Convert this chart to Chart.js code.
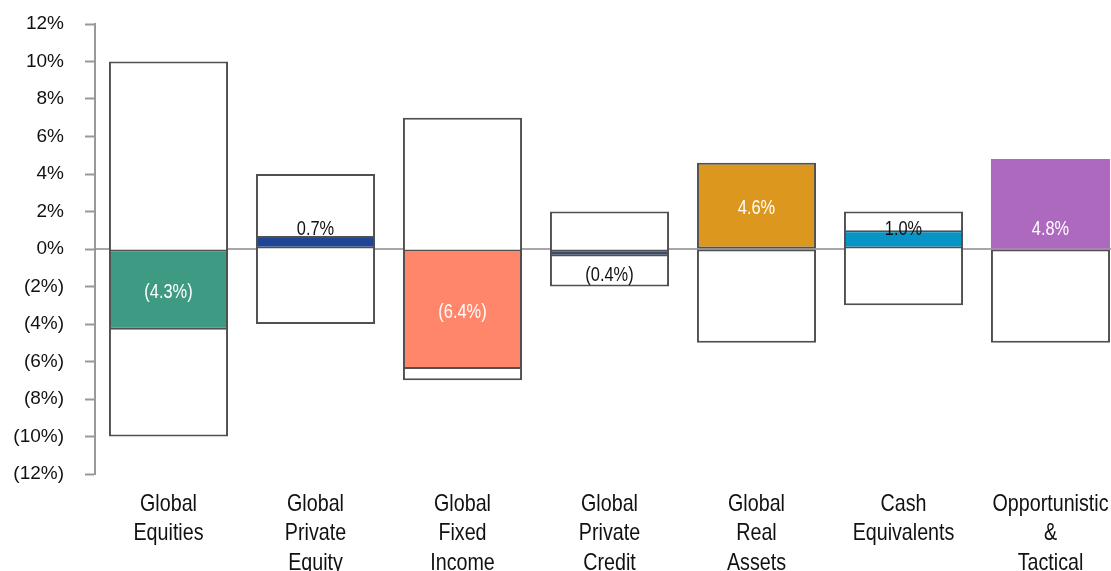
<!DOCTYPE html>
<html>
<head>
<meta charset="utf-8">
<script src="https://cdn.jsdelivr.net/npm/chart.js@4.4.1/dist/chart.umd.min.js"></script>
<style>
html,body{margin:0;padding:0;background:#fff;overflow:hidden;}
#wrap{position:relative;width:1124px;height:571px;}
canvas{display:block;}
</style>
</head>
<body>
<div id="wrap"><canvas id="c"></canvas></div>
<script>
const categories = [["Global","Equities"],["Global","Private","Equity"],["Global","Fixed","Income"],["Global","Private","Credit"],["Global","Real","Assets"],["Cash","Equivalents"],["Opportunistic","&","Tactical"]];
const rangeMin = [-10, -4, -7, -2, -5, -3, -5];
const rangeMax = [10, 4, 7, 2, 0, 2, 0];
const actual = [-4.3, 0.7, -6.4, -0.4, 4.6, 1.0, 4.8];
const barColors = ["#3f9a83","#1f4597","#ff866a","#3b4a6b","#dc971e","#0795c7","#ac69be"];
const barBorders = [2,2,2,2,2,2,0];
const labelAnchor = ["mid","zero","mid","zero","mid","zero","zero"];

const SANS = "'Liberation Sans',Arial,sans-serif";
const NARROW_SCALE = 0.82;
const fmt = v => v < 0 ? "(" + Math.abs(v).toFixed(1) + "%)" : v.toFixed(1) + "%";

function narrowText(ctx, text, x, y) {
  ctx.save();
  ctx.translate(x, y);
  ctx.scale(NARROW_SCALE, 1);
  ctx.fillText(text, 0, 0);
  ctx.restore();
}

const zeroLinePlugin = {
  id: "zeroLine",
  beforeDatasetsDraw(chart) {
    const ctx = chart.ctx, a = chart.chartArea;
    const y0 = chart.scales.y.getPixelForValue(0);
    ctx.save();
    ctx.strokeStyle = "#8a8a8a";
    ctx.lineWidth = 1.5;
    ctx.beginPath();
    ctx.moveTo(a.left, y0);
    ctx.lineTo(a.right, y0);
    ctx.stroke();
    ctx.restore();
  }
};

const labelPlugin = {
  id: "vals",
  afterDatasetsDraw(chart) {
    const ctx = chart.ctx;
    const meta = chart.getDatasetMeta(0);
    const zeroY = chart.scales.y.getPixelForValue(0);
    ctx.save();
    ctx.font = "20px " + SANS;
    ctx.textAlign = "center";
    ctx.textBaseline = "middle";
    meta.data.forEach((el, i) => {
      const v = actual[i];
      let y;
      if (labelAnchor[i] === "mid") {
        y = (el.y + el.base) / 2 + 3;
        ctx.fillStyle = "#ffffff";
      } else {
        y = v >= 0 ? zeroY - 20 : zeroY + 26;
        ctx.fillStyle = Math.abs(v) >= 2 ? "#ffffff" : "#111111";
      }
      narrowText(ctx, fmt(v), el.x, y);
    });
    ctx.restore();
  }
};

const catLabelPlugin = {
  id: "catLabels",
  afterDraw(chart) {
    const ctx = chart.ctx;
    const xs = chart.scales.x;
    const top = chart.chartArea.bottom;
    ctx.save();
    ctx.font = "24px " + SANS;
    ctx.fillStyle = "#111111";
    ctx.textAlign = "center";
    ctx.textBaseline = "middle";
    categories.forEach((lines, i) => {
      const x = xs.getPixelForValue(i);
      lines.forEach((t, j) => narrowText(ctx, t, x, top + 30 + j * 29.5));
    });
    ctx.restore();
  }
};

new Chart(document.getElementById("c"), {
  type: "bar",
  data: {
    labels: categories.map(l => l.join(" ")),
    datasets: [
      {
        label: "Actual",
        data: actual,
        backgroundColor: barColors,
        borderColor: "#505050",
        borderWidth: barBorders,
        borderSkipped: false,
        order: 0,
        grouped: false,
        barPercentage: 0.81,
        categoryPercentage: 1
      },
      {
        label: "Range",
        data: rangeMin.map((m, i) => [m, rangeMax[i]]),
        backgroundColor: "#ffffff",
        borderColor: "#505050",
        borderWidth: 2,
        borderSkipped: false,
        order: 1,
        grouped: false,
        barPercentage: 0.81,
        categoryPercentage: 1
      }
    ]
  },
  options: {
    responsive: true,
    maintainAspectRatio: false,
    animation: false,
    devicePixelRatio: 1,
    layout: { padding: 0 },
    plugins: { legend: { display: false }, tooltip: { enabled: false } },
    scales: {
      x: {
        grid: { display: false, drawTicks: false },
        border: { display: false },
        ticks: { display: false },
        afterFit: s => { s.height = 97; }
      },
      y: {
        min: -12,
        max: 12,
        ticks: {
          stepSize: 2,
          color: "#111",
          font: { family: SANS, size: 19 },
          padding: 21,
          callback: v => v < 0 ? "(" + Math.abs(v) + "%)" : v + "%"
        },
        grid: {
          drawOnChartArea: false,
          drawTicks: true,
          tickLength: 10,
          tickColor: "#999999",
          tickWidth: 2
        },
        border: { display: true, color: "#999999", width: 2 },
        afterFit: s => { s.width = 95; s.paddingTop = 24; s.paddingBottom = 0; }
      }
    }
  },
  plugins: [zeroLinePlugin, labelPlugin, catLabelPlugin]
});
</script>
</body>
</html>
